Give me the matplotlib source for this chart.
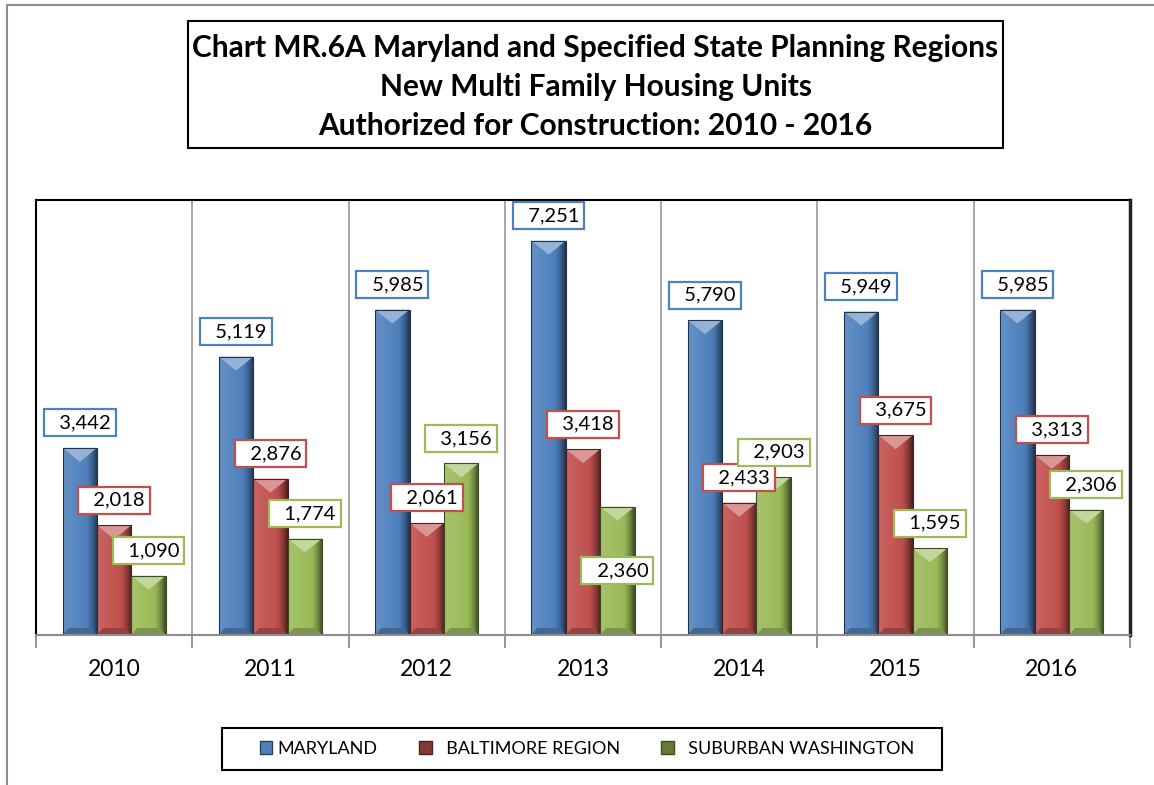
import matplotlib
matplotlib.use("Agg")
import matplotlib.pyplot as plt
from matplotlib.patches import Rectangle, Polygon, Patch
from matplotlib.lines import Line2D
import numpy as np
from matplotlib.colors import to_rgb

# data
years = ["2010", "2011", "2012", "2013", "2014", "2015", "2016"]
series_names = ["MARYLAND", "BALTIMORE REGION", "SUBURBAN WASHINGTON"]
maryland = [3442, 5119, 5985, 7251, 5790, 5949, 5985]
baltimore = [2018, 2876, 2061, 3418, 2433, 3675, 3313]
suburban_dc = [1090, 1774, 3156, 2360, 2903, 1595, 2306]

colors = ["#4F81BD", "#C0504D", "#9BBB59"]
# label offsets in pixels from the bar top (default: above the bar)
label_dy = {(3, 2): 64}

W, H = 1154, 785
fig = plt.figure(figsize=(W / 100, H / 100), dpi=100)
plt.rcParams["font.family"] = ["Lato", "DejaVu Sans"]

def fx(px): return px / W
def fy(py): return 1 - py / H

ax = fig.add_axes([fx(36), fy(635), fx(1130 - 36), (635 - 200) / H])
YMAX = 8000
ax.set_xlim(-0.5, len(years) - 0.5)
ax.set_ylim(0, YMAX)

bw = 0.22
ypx = YMAX / 435.0        # data units per pixel (y)
xpx = 1.0 / 156.3         # data units per pixel (x)


def shade(c, f):
    r = np.array(to_rgb(c))
    if f > 0:
        return tuple(r + (1 - r) * f)
    return tuple(r * (1 + f))


def bevel_bar(x0, h, c):
    x1 = x0 + bw
    xc = (x0 + x1) / 2
    rect = Rectangle((x0, 0), bw, h, facecolor=c, edgecolor="none", zorder=2)
    ax.add_patch(rect)
    t = np.linspace(0, 1, 64)
    base = np.array(to_rgb(c))
    light = np.array(shade(c, 0.12))
    dark = np.array(shade(c, -0.6))
    cols = []
    for v in t:
        if v < 0.65:
            cols.append(light + (base - light) * v / 0.65)
        else:
            cols.append(base + (dark - base) * ((v - 0.65) / 0.35) ** 1.5)
    img = np.array(cols).reshape(1, -1, 3)
    im = ax.imshow(img, extent=[x0, x1, 0, h], aspect="auto", zorder=2.1,
                   interpolation="bilinear")
    im.set_clip_path(rect)
    e = 6 * xpx
    d = 14 * ypx
    b = 7 * ypx
    ax.add_patch(Polygon([(x0, h), (x1, h), (xc, h - d)], closed=True,
                         facecolor=shade(c, 0.4), edgecolor="none", zorder=2.2))
    ax.add_patch(Polygon([(x0, 0), (x1, 0), (x1 - e, b), (x0 + e, b)], closed=True,
                         facecolor=shade(c, -0.2), edgecolor="none", zorder=2.2))
    ax.add_patch(Rectangle((x0, 0), bw, h, facecolor="none",
                           edgecolor=shade(c, -0.6), lw=0.8, zorder=2.3))


all_series = [maryland, baltimore, suburban_dc]
xs = np.arange(len(years))
for s, vals in enumerate(all_series):
    for i, v in enumerate(vals):
        x0 = xs[i] + (s - 1) * bw - bw / 2
        bevel_bar(x0, v, colors[s])
        dy = label_dy.get((i, s), -25)
        ax.annotate("  " + f"{v:,}", xy=(xs[i] + (s - 1) * bw, v),
                    xytext=(0, -dy), textcoords="offset pixels",
                    ha="center", va="center", fontsize=14.5, color="black",
                    zorder=5 + s,
                    bbox=dict(boxstyle="square,pad=0.25", facecolor="white",
                              edgecolor=colors[s], lw=1.6))

# grid / axes
for b in np.arange(0.5, len(years) - 1, 1.0):
    ax.axvline(b, color="#A0A0A0", lw=1.3, zorder=1)
ax.set_xticks(np.arange(-0.5, len(years), 1.0))
ax.set_xticklabels([])
ax.tick_params(axis="x", which="major", length=9, color="#8C8C8C", width=1.3)
ax.set_xticks(xs, minor=True)
ax.set_xticklabels(years, minor=True, fontsize=16.5)
ax.tick_params(axis="x", which="minor", length=0, pad=17)
ax.set_yticks([])
for side in ["left", "top"]:
    ax.spines[side].set_color("black")
    ax.spines[side].set_linewidth(1.5)
ax.spines["right"].set_color("#222222")
ax.spines["right"].set_linewidth(2.5)
ax.spines["bottom"].set_color("#8C8C8C")
ax.spines["bottom"].set_linewidth(1.5)

# title box
fig.patches.append(Rectangle((fx(188), fy(148)), fx(1003 - 188), (148 - 21) / H,
                             transform=fig.transFigure, facecolor="white",
                             edgecolor="black", lw=1.5))
title_lines = ["Chart MR.6A Maryland and Specified State Planning Regions",
               "New Multi Family Housing Units",
               "Authorized for Construction: 2010 - 2016"]
for k, line in enumerate(title_lines):
    fig.text(fx(595.5), fy(48 + 39 * k), line, ha="center", va="center",
             fontsize=21.5, fontweight="bold")

# outer border
fig.add_artist(Line2D([fx(7), fx(7), 1], [0, fy(5), fy(5)],
                      transform=fig.transFigure, color="#8C8C8C", lw=1.5))

# legend (frame drawn separately)
fig.patches.append(Rectangle((fx(222), fy(770)), fx(942 - 222), (770 - 728) / H,
                             transform=fig.transFigure, facecolor="white",
                             edgecolor="black", lw=1.5))
handles = [Patch(facecolor=colors[0], edgecolor=shade(colors[0], -0.5)),
           Patch(facecolor=shade(colors[1], -0.3), edgecolor=shade(colors[1], -0.6)),
           Patch(facecolor=shade(colors[2], -0.35), edgecolor=shade(colors[2], -0.6))]
leg = fig.legend(handles, [series_names[0], "  " + series_names[1],
                           "  " + series_names[2]],
                 loc="center", bbox_to_anchor=(fx(587), fy(749)), ncol=3,
                 fontsize=13, frameon=False, handlelength=0.7,
                 handleheight=0.7, handletextpad=0.28, columnspacing=2.3,
                 borderpad=0.2, borderaxespad=0)

fig.savefig("out.png", dpi=100, facecolor="white")
